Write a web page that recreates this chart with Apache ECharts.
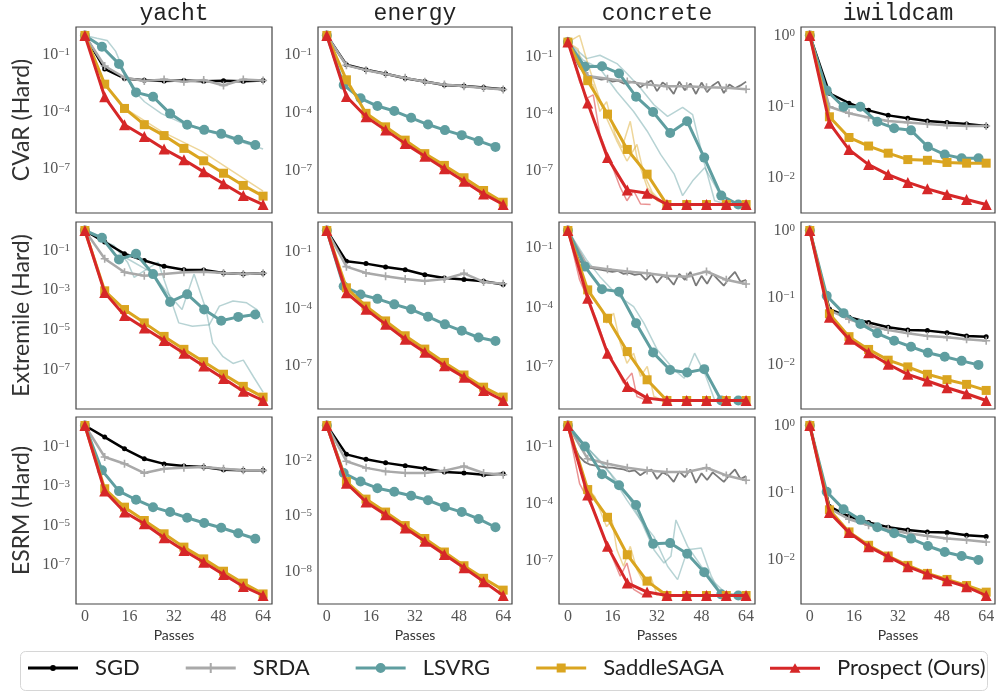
<!DOCTYPE html>
<html><head><meta charset="utf-8">
<script src="https://cdn.jsdelivr.net/npm/echarts@6/dist/echarts.min.js"></script>
<style>html,body{margin:0;padding:0;background:#fff}#c{width:997px;height:692px}</style>
</head><body><div id="c"></div>
<script>
// ---------- labels ----------
const METHODS = ['SGD', 'SRDA', 'LSVRG', 'SaddleSAGA', 'Prospect (Ours)'];
const ROW_LABELS = ['CVaR (Hard)', 'Extremile (Hard)', 'ESRM (Hard)'];
const DATASETS = ['yacht', 'energy', 'concrete', 'iwildcam'];
const X_TICKS = [0, 16, 32, 48, 64];
// passes at which the curves are sampled
const X_MAIN = [0, 7.11, 14.22, 21.33, 28.44, 35.56, 42.67, 49.78, 56.89, 64];
const X_LSVRG = [0, 6.12, 12.24, 18.36, 24.48, 30.6, 36.72, 42.84, 48.96, 55.08, 61.2];
const X_DENSE = [0,2,4,6,8,10,12,14,16,18,20,22,24,26,28,30,32,34,36,38,40,42,44,46,48,50,52,54,56,58,60,62,64];

// y tick labels (exponents of 10) per panel
const YT_cvar_yacht = [-1, -4, -7], YT_cvar_energy = [-1, -4, -7], YT_cvar_concrete = [-1, -4, -7], YT_cvar_iwildcam = [0, -1, -2];
const YT_ext_yacht = [-1, -3, -5, -7], YT_ext_energy = [-1, -4, -7], YT_ext_concrete = [-1, -4, -7], YT_ext_iwildcam = [0, -1, -2];
const YT_esrm_yacht = [-1, -3, -5, -7], YT_esrm_energy = [-2, -5, -8], YT_esrm_concrete = [-1, -4, -7], YT_esrm_iwildcam = [0, -1, -2];

// ---------- values: log10 of suboptimality ----------
// CVaR
const cvar_yacht_sgd = [0, -1.75, -2.25, -2.35, -2.38, -2.36, -2.40, -2.37, -2.40, -2.36];
const cvar_yacht_srda = [0, -1.6, -2.2, -2.38, -2.3, -2.42, -2.33, -2.62, -2.3, -2.36];
const cvar_yacht_lsvrg = [0, -0.59, -1.49, -2.98, -3.21, -4.09, -4.67, -4.94, -5.15, -5.46, -5.73];
const cvar_yacht_saga = [0, -2.55, -3.82, -4.67, -5.24, -5.91, -6.56, -7.21, -7.85, -8.41];
const cvar_yacht_prospect = [0, -3.21, -4.67, -5.29, -5.94, -6.51, -7.14, -7.76, -8.38, -8.85];
const cvar_yacht_lsvrg_run = [[0,0],[4.3,-0.15],[8,-0.26],[11,-0.82],[14.1,-1.88],[17.1,-2.8],[21.4,-3.47],[27.5,-4.09],[36.1,-4.67],[48.3,-5.2],[64,-5.94]];
const cvar_yacht_saga_run = [[0,0],[4.3,-1.71],[7,-2.5],[14.1,-3.79],[27.5,-5.02],[42.2,-6.08],[64,-8.15]];

const cvar_energy_sgd = [0, -1.52, -1.78, -1.99, -2.22, -2.39, -2.57, -2.62, -2.70, -2.79];
const cvar_energy_srda = [0, -1.55, -1.8, -2.0, -2.2, -2.4, -2.55, -2.64, -2.72, -2.8];
const cvar_energy_lsvrg = [0, -2.57, -3.26, -3.66, -3.92, -4.27, -4.62, -4.91, -5.17, -5.47, -5.78];
const cvar_energy_saga = [0, -2.3, -4.04, -4.74, -5.43, -6.13, -6.74, -7.38, -8.04, -8.65];
const cvar_energy_prospect = [0, -3.17, -4.22, -4.91, -5.61, -6.27, -6.91, -7.56, -8.22, -8.77];

const cvar_concrete_sgd = [-0.22,-0.9,-1.5,-1.85,-2.05,-2.1,-2.2,-2.15,-2.3,-2.25,-2.4,-2.35,-2.3,-2.6,-2.4,-2.25,-2.8,-2.35,-2.55,-2.95,-2.3,-2.75,-2.4,-2.95,-2.35,-2.85,-2.5,-2.3,-2.9,-2.45,-2.65,-2.5,-2.3];
const cvar_concrete_srda = [-0.22, -2.0, -2.15, -2.3, -2.45, -2.55, -2.55, -2.6, -2.62, -2.7];
const cvar_concrete_lsvrg = [-0.22, -1.52, -1.49, -1.87, -3.09, -3.90, -5.0, -4.39, -6.30, -8.30, -8.77];
const cvar_concrete_saga = [-0.22, -2.25, -4.01, -5.87, -7.17, -8.77, -8.77, -8.77, -8.77, -8.77];
const cvar_concrete_prospect = [-0.22, -3.43, -6.30, -8.01, -8.18, -8.77, -8.77, -8.77, -8.77, -8.77];
const cvar_concrete_lsvrg_run1 = [[0,-0.22],[6.7,-1.09],[11.5,-0.91],[17.6,-1.35],[21.2,-1.87],[26.1,-2.65],[30.9,-3.52],[35.8,-4.13],[41.2,-3.66],[44.8,-4.04],[49.1,-6.65],[52.7,-8.57],[57.6,-8.77],[64,-8.77]];
const cvar_concrete_lsvrg_run2 = [[0,-0.22],[5.5,-1.17],[11.5,-1.61],[17.6,-2.83],[23.6,-3.87],[28.5,-4.91],[33.3,-6.13],[38.2,-7.17],[41.2,-8.3],[44.8,-7.52],[49.1,-6.83],[53.9,-8.04],[58.8,-8.77],[64,-8.77]];
const cvar_concrete_saga_run1 = [[0,-0.22],[3.6,-0.57],[6.4,-2.3],[9.1,-2.48],[11.5,-3.87],[13.9,-3.35],[17,-5.09],[19.4,-5.78],[22.4,-4.39],[24.8,-6.3],[28.5,-7.87],[32.1,-8.57],[35.8,-8.77]];
const cvar_concrete_saga_run2 = [[0,-0.22],[4.2,0.13],[7.3,-1.43],[10.9,-3.0],[13.9,-4.22],[17.6,-5.43],[21.2,-6.48],[24.8,-5.61],[27.3,-7.17],[30.3,-8.13],[34.5,-8.77]];
const cvar_concrete_prospect_run = [[0,-0.22],[4.2,-2.3],[6.9,-3.17],[9.1,-3.0],[11.5,-5.09],[15.2,-6.48],[18.8,-7.87],[21.2,-8.57],[23.6,-8.04],[26.1,-8.74],[29.7,-8.77]];

const cvar_iwildcam_sgd = [0, -0.81, -0.95, -1.05, -1.12, -1.16, -1.20, -1.22, -1.24, -1.27];
const cvar_iwildcam_srda = [0, -1.0, -1.09, -1.15, -1.20, -1.22, -1.24, -1.26, -1.27, -1.27];
const cvar_iwildcam_lsvrg = [0, -0.77, -1.0, -1.0, -1.21, -1.30, -1.33, -1.56, -1.67, -1.72, -1.72];
const cvar_iwildcam_saga = [0, -1.14, -1.43, -1.55, -1.65, -1.74, -1.75, -1.78, -1.79, -1.79];
const cvar_iwildcam_prospect = [0, -1.23, -1.60, -1.81, -1.95, -2.06, -2.15, -2.23, -2.30, -2.37];

// Extremile
const ext_yacht_sgd = [0, -0.58, -1.17, -1.51, -1.80, -1.97, -1.98, -2.14, -2.19, -2.15];
const ext_yacht_srda = [0, -1.42, -2.10, -2.27, -2.19, -2.10, -2.07, -2.14, -2.19, -2.15];
const ext_yacht_lsvrg = [0, -0.37, -1.46, -1.17, -2.19, -3.59, -3.20, -3.97, -4.53, -4.34, -4.22];
const ext_yacht_saga = [0, -3.03, -3.97, -4.64, -5.32, -5.97, -6.59, -7.22, -7.83, -8.37];
const ext_yacht_prospect = [0, -3.12, -4.27, -4.90, -5.53, -6.17, -6.81, -7.44, -8.08, -8.54];
const ext_yacht_lsvrg_run1 = [[0,0],[5.5,-0.49],[10.4,-0.75],[15.3,-1.59],[17.7,-2.36],[21.4,-2.02],[26.3,-1.59],[30,-3.12],[33.7,-4.64],[38.6,-4.81],[44.7,-4.73],[48.3,-3.8],[53.2,-3.54],[58.1,-3.63],[61.8,-3.97],[64,-4.64]];
const ext_yacht_lsvrg_run2 = [[0,0],[8,-0.58],[15.3,-1.42],[23.9,-2.1],[30,-3.2],[34.9,-3.97],[39.2,-2.19],[43.5,-3.97],[45.9,-5.66],[49.6,-6.34],[53.2,-6.68],[56.9,-6.51],[60.6,-7.36],[64,-8.12]];

const ext_energy_sgd = [0.1, -1.52, -1.64, -1.82, -1.96, -2.22, -2.39, -2.48, -2.57, -2.74];
const ext_energy_srda = [0.1, -1.8, -2.13, -2.3, -2.45, -2.55, -2.45, -2.15, -2.6, -2.7];
const ext_energy_lsvrg = [0.1, -2.83, -3.26, -3.49, -3.78, -4.04, -4.43, -4.83, -5.17, -5.52, -5.70];
const ext_energy_saga = [0.1, -2.91, -3.87, -4.65, -5.43, -6.13, -6.83, -7.49, -8.13, -8.65];
const ext_energy_prospect = [0.1, -3.17, -4.04, -4.83, -5.61, -6.30, -7.0, -7.61, -8.30, -8.83];

const ext_concrete_sgd = [-0.1,-0.9,-1.6,-1.9,-2.0,-2.05,-2.1,-2.15,-2.2,-2.15,-2.3,-2.25,-2.35,-2.3,-2.6,-2.3,-2.75,-2.4,-2.5,-2.85,-2.3,-2.6,-2.2,-2.9,-2.4,-2.8,-2.3,-2.6,-2.9,-2.5,-2.2,-2.7,-2.6];
const ext_concrete_srda = [-0.1, -1.93, -2.06, -2.18, -2.27, -2.40, -2.44, -2.18, -2.6, -2.81];
const ext_concrete_lsvrg = [-0.1, -1.93, -3.08, -3.20, -4.80, -6.29, -7.17, -7.30, -7.13, -8.72, -8.72];
const ext_concrete_saga = [-0.1, -3.11, -4.55, -6.24, -7.67, -8.72, -8.72, -8.72, -8.72, -8.72];
const ext_concrete_prospect = [-0.1, -3.53, -6.32, -8.01, -8.60, -8.72, -8.72, -8.72, -8.72, -8.72];
const ext_concrete_lsvrg_run = [[0,-0.1],[6.7,-1.59],[11.5,-2.44],[17.6,-3.36],[23.6,-3.96],[27.3,-4.8],[32.1,-6.15],[38.2,-7.17],[41.8,-7.59],[45.5,-6.32],[49.1,-7.33],[52.7,-8.69],[57.6,-8.72],[64,-8.72]];
const ext_concrete_saga_run = [[0,-0.1],[3,-1.25],[6.1,-3.03],[9.1,-3.45],[12.1,-4.13],[13.9,-4.8],[16.4,-4.29],[18.8,-5.81],[21.2,-6.83],[23.6,-6.32],[26.1,-7.5],[28.5,-6.99],[30.9,-8.52],[34.5,-8.72]];
const ext_concrete_prospect_run = [[0,-0.1],[4.2,-2.6],[7.3,-3.62],[10.3,-4.63],[13.9,-6.15],[17,-7.0],[20,-7.84],[23,-7.33],[24.8,-8.52],[28.5,-8.72]];

const ext_iwildcam_sgd = [0, -1.17, -1.29, -1.37, -1.44, -1.48, -1.49, -1.52, -1.57, -1.58];
const ext_iwildcam_srda = [0, -1.19, -1.32, -1.42, -1.48, -1.53, -1.57, -1.59, -1.62, -1.64];
const ext_iwildcam_lsvrg = [0, -0.97, -1.23, -1.39, -1.53, -1.64, -1.73, -1.82, -1.88, -1.94, -2.0];
const ext_iwildcam_saga = [0, -1.24, -1.58, -1.77, -1.93, -2.03, -2.14, -2.22, -2.29, -2.38];
const ext_iwildcam_prospect = [0, -1.29, -1.62, -1.82, -1.99, -2.14, -2.24, -2.34, -2.43, -2.53];

// ESRM
const esrm_yacht_sgd = [0.1, -0.49, -1.09, -1.60, -1.86, -1.97, -2.02, -2.16, -2.19, -2.19];
const esrm_yacht_srda = [0.1, -1.51, -1.85, -2.33, -2.11, -2.06, -2.02, -2.11, -2.19, -2.19];
const esrm_yacht_lsvrg = [0.1, -2.19, -3.25, -3.69, -4.07, -4.32, -4.61, -4.88, -5.12, -5.40, -5.68];
const esrm_yacht_saga = [0.1, -3.13, -4.07, -4.75, -5.43, -6.11, -6.71, -7.34, -7.95, -8.5];
const esrm_yacht_prospect = [0.1, -3.25, -4.32, -4.92, -5.63, -6.28, -6.88, -7.51, -8.12, -8.58];

const esrm_energy_sgd = [-0.11, -1.67, -1.94, -2.13, -2.28, -2.44, -2.62, -2.68, -2.77, -2.72];
const esrm_energy_srda = [-0.11, -2.04, -2.40, -2.59, -2.68, -2.68, -2.55, -2.31, -2.68, -2.77];
const esrm_energy_lsvrg = [-0.11, -2.68, -3.14, -3.50, -3.69, -3.91, -4.15, -4.51, -4.79, -5.16, -5.61];
const esrm_energy_saga = [-0.11, -3.14, -4.09, -4.79, -5.52, -6.22, -6.95, -7.69, -8.37, -9.01];
const esrm_energy_prospect = [-0.11, -3.23, -4.24, -4.94, -5.65, -6.37, -7.08, -7.80, -8.55, -9.30];

const esrm_concrete_sgd = [0.1,-0.9,-1.5,-1.8,-1.95,-2.0,-2.05,-2.1,-2.1,-2.15,-2.2,-2.3,-2.25,-2.5,-2.3,-2.2,-2.7,-2.35,-2.5,-2.85,-2.3,-2.6,-2.2,-2.9,-2.4,-2.75,-2.35,-2.6,-2.85,-2.5,-2.2,-2.7,-2.55];
const esrm_concrete_srda = [0.1, -1.64, -1.90, -2.11, -2.25, -2.33, -2.33, -2.11, -2.51, -2.76];
const esrm_concrete_lsvrg = [0.1, -1.0, -2.45, -3.02, -4.06, -6.09, -6.05, -6.61, -7.57, -8.73, -8.79];
const esrm_concrete_saga = [0.1, -3.25, -4.70, -6.66, -8.04, -8.79, -8.79, -8.79, -8.79, -8.79];
const esrm_concrete_prospect = [0.1, -3.54, -6.22, -8.13, -8.61, -8.79, -8.79, -8.79, -8.79, -8.79];
const esrm_concrete_lsvrg_run1 = [[0,0.09],[6.7,-1.03],[11.5,-1.73],[16.4,-2.59],[21.2,-3.46],[26.1,-4.84],[30.9,-6.4],[34.5,-7.09],[37,-6.74],[38.8,-4.84],[43,-6.22],[47.9,-7.26],[52.7,-8.13],[57.6,-8.79],[64,-8.79]];
const esrm_concrete_lsvrg_run2 = [[0,0.09],[7.9,-1.21],[15.2,-2.42],[21.2,-3.8],[26.1,-4.84],[30.9,-5.71],[35.8,-7.26],[39.4,-7.96],[43,-6.4],[47.9,-6.31],[51.5,-7.78],[55.1,-8.79],[64,-8.79]];
const esrm_concrete_saga_run = [[0,0.09],[3.6,-1.73],[6.7,-3.11],[9.7,-3.63],[11.5,-4.32],[13.9,-5.19],[15.8,-4.84],[17.6,-6.4],[20,-7.26],[22.4,-6.22],[24.8,-7.44],[27.3,-8.13],[29.7,-7.78],[32.1,-8.79]];
const esrm_concrete_prospect_run = [[0,0.09],[4.2,-2.94],[6.7,-3.63],[10.3,-4.67],[12.7,-5.71],[15.8,-6.74],[18.8,-7.78],[21.2,-7.09],[23.6,-8.47],[27.3,-8.79]];

const esrm_iwildcam_sgd = [0, -1.21, -1.36, -1.45, -1.52, -1.56, -1.59, -1.60, -1.64, -1.66];
const esrm_iwildcam_srda = [0, -1.24, -1.40, -1.49, -1.55, -1.61, -1.65, -1.69, -1.71, -1.74];
const esrm_iwildcam_lsvrg = [0, -0.99, -1.25, -1.41, -1.52, -1.61, -1.69, -1.80, -1.89, -1.95, -2.01];
const esrm_iwildcam_saga = [0, -1.26, -1.59, -1.79, -1.95, -2.09, -2.21, -2.30, -2.39, -2.49];
const esrm_iwildcam_prospect = [0, -1.30, -1.60, -1.81, -1.96, -2.11, -2.22, -2.32, -2.41, -2.54];

// ---------- panel assembly ----------
function panel(row, col, ticks, sgd, srda, lsvrg, saga, prospect, sgdX, runs) {
  return { row, col, ticks, main: [sgd, srda, lsvrg, saga, prospect], sgdX, runs };
}
const PANELS = [
  panel(0,0,YT_cvar_yacht,cvar_yacht_sgd,cvar_yacht_srda,cvar_yacht_lsvrg,cvar_yacht_saga,cvar_yacht_prospect,X_MAIN,[[2,cvar_yacht_lsvrg_run],[3,cvar_yacht_saga_run]]),
  panel(0,1,YT_cvar_energy,cvar_energy_sgd,cvar_energy_srda,cvar_energy_lsvrg,cvar_energy_saga,cvar_energy_prospect,X_MAIN,[]),
  panel(0,2,YT_cvar_concrete,cvar_concrete_sgd,cvar_concrete_srda,cvar_concrete_lsvrg,cvar_concrete_saga,cvar_concrete_prospect,X_DENSE,[[2,cvar_concrete_lsvrg_run1],[2,cvar_concrete_lsvrg_run2],[3,cvar_concrete_saga_run1],[3,cvar_concrete_saga_run2],[4,cvar_concrete_prospect_run]]),
  panel(0,3,YT_cvar_iwildcam,cvar_iwildcam_sgd,cvar_iwildcam_srda,cvar_iwildcam_lsvrg,cvar_iwildcam_saga,cvar_iwildcam_prospect,X_MAIN,[]),
  panel(1,0,YT_ext_yacht,ext_yacht_sgd,ext_yacht_srda,ext_yacht_lsvrg,ext_yacht_saga,ext_yacht_prospect,X_MAIN,[[2,ext_yacht_lsvrg_run1],[2,ext_yacht_lsvrg_run2]]),
  panel(1,1,YT_ext_energy,ext_energy_sgd,ext_energy_srda,ext_energy_lsvrg,ext_energy_saga,ext_energy_prospect,X_MAIN,[]),
  panel(1,2,YT_ext_concrete,ext_concrete_sgd,ext_concrete_srda,ext_concrete_lsvrg,ext_concrete_saga,ext_concrete_prospect,X_DENSE,[[2,ext_concrete_lsvrg_run],[3,ext_concrete_saga_run],[4,ext_concrete_prospect_run]]),
  panel(1,3,YT_ext_iwildcam,ext_iwildcam_sgd,ext_iwildcam_srda,ext_iwildcam_lsvrg,ext_iwildcam_saga,ext_iwildcam_prospect,X_MAIN,[]),
  panel(2,0,YT_esrm_yacht,esrm_yacht_sgd,esrm_yacht_srda,esrm_yacht_lsvrg,esrm_yacht_saga,esrm_yacht_prospect,X_MAIN,[]),
  panel(2,1,YT_esrm_energy,esrm_energy_sgd,esrm_energy_srda,esrm_energy_lsvrg,esrm_energy_saga,esrm_energy_prospect,X_MAIN,[]),
  panel(2,2,YT_esrm_concrete,esrm_concrete_sgd,esrm_concrete_srda,esrm_concrete_lsvrg,esrm_concrete_saga,esrm_concrete_prospect,X_DENSE,[[2,esrm_concrete_lsvrg_run1],[2,esrm_concrete_lsvrg_run2],[3,esrm_concrete_saga_run],[4,esrm_concrete_prospect_run]]),
  panel(2,3,YT_esrm_iwildcam,esrm_iwildcam_sgd,esrm_iwildcam_srda,esrm_iwildcam_lsvrg,esrm_iwildcam_saga,esrm_iwildcam_prospect,X_MAIN,[])
];

// ---------- styles ----------
const COLORS = ['#000000', '#a9a9a9', '#5f9ea0', '#daa520', '#d62728'];
const FAINT = ['rgba(0,0,0,0.3)', 'rgba(169,169,169,0.5)', 'rgba(95,158,160,0.45)', 'rgba(218,165,32,0.45)', 'rgba(214,39,40,0.5)'];
const PLUS = 'path://M4,0H6V4H10V6H6V10H4V6H0V4H4Z';
const SYMBOLS = ['circle', PLUS, 'circle', 'rect', 'triangle'];
const SYM_SIZES = [5, 8, 10, 9, 11];
const LINE_W = [2.5, 2.5, 3, 3, 3];
const LEGEND_ICONS = [
  'path://M0,-1.5H50V1.5H0Z M22,0A3,3 0 1,1 28,0A3,3 0 1,1 22,0Z',
  'path://M0,-1.5H50V1.5H0Z M24,-5H26V5H24Z',
  'path://M0,-1.5H50V1.5H0Z M20,0A5,5 0 1,1 30,0A5,5 0 1,1 20,0Z',
  'path://M0,-1.5H50V1.5H0Z M20.5,-4.5H29.5V4.5H20.5Z',
  'path://M0,-1.5H50V1.5H0Z M25,-5L30.5,4.5H19.5Z'
];
const COL_LEFT = [76, 318, 559, 801], COL_W = [196, 194, 196, 194];
const ROW_TOP = [27, 222, 417], ROW_H = [186, 187, 187];
const SERIF = '"Liberation Serif", "DejaVu Serif", serif';
const SANS = 'Lato, "Open Sans", sans-serif';
const MONO = '"Liberation Mono", "DejaVu Sans Mono", monospace';
const P = v => Math.pow(10, v);

function expLabel(v) {
  const e = Math.round(Math.log10(v));
  return '{b|10}{s|' + (e < 0 ? '\u2212' + (-e) : '' + e) + '}';
}

const grids = [], xAxes = [], yAxes = [], series = [], graphics = [];
PANELS.forEach((p, i) => {
  grids.push({ left: COL_LEFT[p.col], top: ROW_TOP[p.row], width: COL_W[p.col], height: ROW_H[p.row],
    show: true, borderColor: '#444', borderWidth: 1.2, backgroundColor: '#fff', outerBoundsMode: 'none' });
  // data extent -> matplotlib-like 5% log margins
  let all = [];
  p.main.forEach(a => all = all.concat(a));
  p.runs.forEach(r => r[1].forEach(pt => all.push(pt[1])));
  const hi = Math.max(...all), lo = Math.min(...all), R = hi - lo;
  xAxes.push({ gridIndex: i, type: 'value', min: -3.2, max: 67.2,
    axisLine: { show: false }, axisTick: { show: false }, splitLine: { show: false },
    axisLabel: { show: p.row === 2, customValues: X_TICKS, margin: 5, fontFamily: SERIF, fontSize: 16, color: '#555' },
    name: p.row === 2 ? 'Passes' : '', nameLocation: 'middle', nameGap: 24,
    nameTextStyle: { fontFamily: SANS, fontSize: 14, color: '#333' } });
  yAxes.push({ gridIndex: i, type: 'log', logBase: 10, min: P(lo - 0.05 * R), max: P(hi + 0.05 * R),
    axisLine: { show: false }, axisTick: { show: false }, splitLine: { show: false }, minorTick: { show: false },
    axisLabel: { customValues: p.ticks.map(P), margin: 6, formatter: expLabel,
      rich: { b: { fontFamily: SERIF, fontSize: 16, color: '#555', lineHeight: 16, padding: [6, 0, 0, 0], verticalAlign: 'bottom' },
              s: { fontFamily: SERIF, fontSize: 11, color: '#555', lineHeight: 11, verticalAlign: 'top' } } },
    name: p.col === 0 ? ROW_LABELS[p.row] : '', nameLocation: 'middle', nameRotate: 90, nameGap: 43,
    nameTextStyle: { fontFamily: SANS, fontSize: 23, color: '#333' } });
  // faint extra runs (under the main curves)
  p.runs.forEach(r => {
    series.push({ type: 'line', name: METHODS[r[0]] + ' run', xAxisIndex: i, yAxisIndex: i, z: 1, silent: true,
      symbol: 'none', data: r[1].map(pt => [pt[0], P(pt[1])]), lineStyle: { color: FAINT[r[0]], width: 1.5 } });
  });
  p.main.forEach((vals, m) => {
    const xs = m === 2 ? X_LSVRG : (m === 0 ? p.sgdX : X_MAIN);
    const dense = xs.length > 11;
    series.push({ type: 'line', name: METHODS[m], xAxisIndex: i, yAxisIndex: i, z: dense ? 2 : 2 + m,
      symbol: dense ? 'none' : SYMBOLS[m], symbolSize: SYM_SIZES[m], showSymbol: !dense,
      data: vals.map((v, k) => [xs[k], P(v)]),
      lineStyle: { color: dense ? '#7a7a7a' : COLORS[m], width: dense ? 1.8 : LINE_W[m] },
      itemStyle: { color: COLORS[m], borderWidth: 0 } });
  });
});

DATASETS.forEach((d, c) => {
  graphics.push({ type: 'text', x: COL_LEFT[c] + COL_W[c] / 2, y: 14,
    style: { text: d, font: '23px ' + MONO, fill: '#222', textAlign: 'center', textVerticalAlign: 'middle' } });
});
graphics.push({ type: 'rect', shape: { x: 20.5, y: 651.5, width: 967, height: 39, r: 5 },
  style: { fill: '#fff', stroke: '#d6d6d6', lineWidth: 1 }, z: -1 });

const chart = echarts.init(document.getElementById('c'), null, { renderer: 'canvas' });
chart.setOption({
  animation: false,
  backgroundColor: '#fff',
  grid: grids, xAxis: xAxes, yAxis: yAxes, series: series,
  graphic: graphics,
  legend: { left: 28, top: 657, width: 969, padding: 0, itemGap: 46, itemWidth: 50, itemHeight: 12,
    data: METHODS.map((n, k) => ({ name: n, icon: LEGEND_ICONS[k], itemStyle: { color: COLORS[k], borderWidth: 0 } })),
    textStyle: { fontFamily: SANS, fontSize: 22, color: '#222', padding: [0, 0, 0, 12] },
    selectedMode: false }
});
</script></body></html>
